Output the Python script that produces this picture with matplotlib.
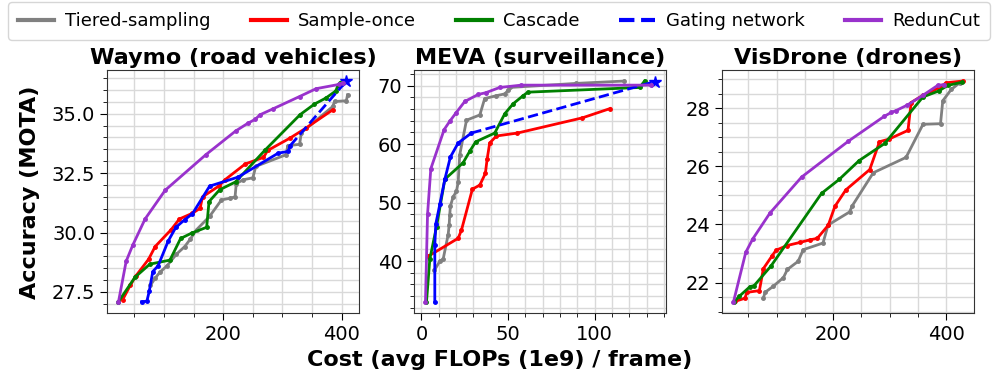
import matplotlib
matplotlib.use("Agg")
import matplotlib.pyplot as plt
from matplotlib.ticker import MultipleLocator, FormatStrFormatter
from matplotlib.lines import Line2D

plt.rcParams['font.family'] = ['DejaVu Sans']

# ---------------- Waymo ----------------
waymo_tiered_x = [77, 85, 93, 105, 121, 135, 144, 155, 177, 197, 211, 220, 222, 234, 250, 255, 306, 309, 329, 332, 385, 388, 408, 410]
waymo_tiered_y = [27.78, 28.08, 28.33, 28.6, 29.09, 29.41, 29.71, 30.12, 30.68, 31.37, 31.44, 31.5, 32.06, 32.22, 32.3, 32.78, 33.27, 33.65, 33.71, 34.2, 35.3, 35.51, 35.54, 35.79]
waymo_once_x = [30, 43, 52, 74, 85, 112, 126, 148, 161, 165, 193, 203, 237, 268, 275, 312, 339, 385]
waymo_once_y = [27.17, 27.78, 28.16, 28.88, 29.41, 30.12, 30.57, 30.81, 31.02, 31.5, 31.96, 32.22, 32.88, 33.16, 33.45, 33.96, 34.38, 35.16]
waymo_casc_x = [23, 51, 76, 110, 128, 147, 172, 176, 194, 221, 270, 330, 354, 373, 390, 394, 398]
waymo_casc_y = [27.09, 28.12, 28.67, 28.84, 29.75, 29.98, 30.22, 31.3, 31.8, 32.13, 33.45, 34.96, 35.4, 35.65, 35.95, 36.2, 36.3]
waymo_gate_x = [62, 71, 75, 81, 90, 107, 120, 135, 148, 177, 225, 293, 310, 313]
waymo_gate_y = [27.09, 27.11, 27.53, 28.36, 28.6, 29.64, 30.22, 30.54, 30.79, 31.95, 32.33, 33.34, 33.41, 33.65]
waymo_gate_star = (408, 36.37)
waymo_red_x = [23, 36, 47, 68, 102, 171, 221, 242, 254, 262, 284, 329, 357, 396, 403]
waymo_red_y = [27.08, 28.79, 29.46, 30.57, 31.78, 33.28, 34.27, 34.6, 34.76, 34.95, 35.2, 35.72, 36.05, 36.23, 36.3]

# ---------------- MEVA ----------------
meva_tiered_x = [7.5, 10.6, 12.5, 15.4, 16, 16.3, 16.7, 18.3, 20.2, 21.2, 22.1, 26, 33.7, 36.5, 43.3, 48.1, 50, 51, 89.4, 117]
meva_tiered_y = [38.4, 40.0, 40.3, 44.5, 46.2, 47.8, 49.4, 51.0, 51.9, 53.5, 58.2, 64.1, 65.0, 67.8, 68.3, 68.6, 69.2, 69.7, 70.4, 70.8]
meva_once_x = [3.8, 21.2, 23.1, 29.4, 33.7, 36.9, 37.9, 39.4, 43.3, 55.4, 92.9, 109]
meva_once_y = [40.8, 43.9, 45.3, 52.3, 53.0, 55.0, 57.4, 60.2, 61.4, 61.9, 64.5, 66.1]
meva_casc_x = [2.9, 4.8, 8.7, 13.5, 24, 27.9, 31.3, 42.3, 48.1, 52.9, 58.7, 61.5, 126, 128.8]
meva_casc_y = [33.0, 40.3, 45.9, 54.0, 56.8, 58.8, 60.4, 61.9, 65.2, 66.9, 68.3, 68.9, 69.7, 70.8]
meva_gate_x = [7.7, 7.7, 8.3, 10.6, 13.5, 16.7, 21.2, 28.8]
meva_gate_y = [33.0, 42.8, 46.4, 49.7, 54.0, 57.8, 60.2, 61.9]
meva_gate_star = (134.6, 70.7)
meva_red_x = [2.3, 3.5, 5.4, 13.1, 16.3, 19.8, 25, 32.7, 37.1, 45.2, 57.7, 132.7]
meva_red_y = [33.0, 48.0, 55.8, 62.5, 63.9, 65.3, 67.3, 68.5, 68.8, 69.7, 70.1, 70.1]

# ---------------- VisDrone ----------------
vis_tiered_x = [76.5, 79.4, 94, 112, 119, 138, 147, 182, 191, 229, 234, 271, 329, 359, 390, 394, 409, 424]
vis_tiered_y = [21.46, 21.66, 21.87, 22.17, 22.45, 22.73, 23.13, 23.36, 23.98, 24.43, 24.65, 25.78, 26.31, 27.45, 27.47, 28.26, 28.65, 28.88]
vis_once_x = [26.5, 44, 47, 69.4, 76.5, 91.2, 98.8, 117.6, 141.2, 158.8, 171.8, 191.2, 203, 222.4, 264.7, 282, 298.8, 332.4, 338, 358.8, 388, 400, 429]
vis_once_y = [21.35, 21.46, 21.66, 21.72, 22.48, 22.9, 23.11, 23.27, 23.38, 23.47, 23.52, 23.97, 24.62, 25.19, 25.89, 26.85, 26.94, 27.24, 28.2, 28.45, 28.71, 28.88, 28.94]
vis_casc_x = [24.7, 33.5, 52.9, 60, 90, 179.4, 210.6, 245.9, 291.2, 358.8, 387, 402.9, 428.2]
vis_casc_y = [21.33, 21.52, 21.86, 21.89, 22.57, 25.07, 25.55, 26.2, 26.79, 28.39, 28.6, 28.79, 28.9]
vis_red_x = [23.5, 45.3, 57.6, 88, 144, 227, 290, 303, 311, 331, 359, 385, 397]
vis_red_y = [21.33, 23.04, 23.5, 24.39, 25.63, 26.87, 27.72, 27.86, 27.92, 28.11, 28.45, 28.79, 28.82]

titles = ["Waymo (road vehicles)", "MEVA (surveillance)", "VisDrone (drones)"]
labels = ["Tiered-sampling", "Sample-once", "Cascade", "Gating network", "RedunCut"]
colors = ["#808080", "red", "green", "blue", "darkorchid"]

W, H = 997, 386
fig = plt.figure(figsize=(W / 100, H / 100), dpi=100)
bottom_px, top_px = 313, 70
lefts = [107, 414, 722]
width_px = 252
axes = [fig.add_axes([l / W, (H - bottom_px) / H, width_px / W, (bottom_px - top_px) / H]) for l in lefts]

lw = 2.0
ms = 2.5

def draw_all(ax, tx, ty, ox, oy, cx, cy, rx, ry, gx=None, gy=None, star=None):
    ax.plot(tx, ty, color=colors[0], lw=lw, marker='o', ms=ms)
    ax.plot(ox, oy, color=colors[1], lw=lw, marker='o', ms=ms)
    ax.plot(cx, cy, color=colors[2], lw=lw, marker='o', ms=ms)
    if gx is not None:
        ax.plot(gx, gy, color=colors[3], lw=lw, marker='o', ms=ms)
        ax.plot([gx[-1], star[0]], [gy[-1], star[1]], color=colors[3], lw=lw, ls='--')
        ax.plot([star[0]], [star[1]], color=colors[3], marker='*', ms=9, ls='none')
    ax.plot(rx, ry, color=colors[4], lw=lw, marker='o', ms=ms)

draw_all(axes[0], waymo_tiered_x, waymo_tiered_y, waymo_once_x, waymo_once_y,
         waymo_casc_x, waymo_casc_y, waymo_red_x, waymo_red_y,
         waymo_gate_x, waymo_gate_y, waymo_gate_star)
draw_all(axes[1], meva_tiered_x, meva_tiered_y, meva_once_x, meva_once_y,
         meva_casc_x, meva_casc_y, meva_red_x, meva_red_y,
         meva_gate_x, meva_gate_y, meva_gate_star)
draw_all(axes[2], vis_tiered_x, vis_tiered_y, vis_once_x, vis_once_y,
         vis_casc_x, vis_casc_y, vis_red_x, vis_red_y)

x_major = [200, 50, 200]
x_minor = [50, 10, 50]
y_major = [2.5, 10, 2]
y_minor = [0.5, 2, 0.5]
for i, ax in enumerate(axes):
    ax.set_title(titles[i], fontsize=16, fontweight='bold', pad=4)
    ax.xaxis.set_major_locator(MultipleLocator(x_major[i]))
    ax.xaxis.set_minor_locator(MultipleLocator(x_minor[i]))
    ax.yaxis.set_major_locator(MultipleLocator(y_major[i]))
    ax.yaxis.set_minor_locator(MultipleLocator(y_minor[i]))
    ax.grid(which='both', color='#d9d9d9', lw=1.0)
    ax.set_axisbelow(True)
    ax.tick_params(axis='both', which='major', labelsize=14, length=5)
    ax.tick_params(axis='both', which='minor', length=3)
    for s in ax.spines.values():
        s.set_color('#333333')

axes[0].yaxis.set_major_formatter(FormatStrFormatter('%.1f'))

fig.text(30 / W, (H - 192) / H, "Accuracy (MOTA)", rotation=90, fontsize=16, fontweight='bold',
         ha='center', va='center')
fig.text(500 / W, (H - 360) / H, "Cost (avg FLOPs (1e9) / frame)", fontsize=16,
         fontweight='bold', ha='center', va='center')

handles = [Line2D([], [], color=colors[0], lw=3),
           Line2D([], [], color=colors[1], lw=3),
           Line2D([], [], color=colors[2], lw=3),
           Line2D([], [], color=colors[3], lw=3, ls='--'),
           Line2D([], [], color=colors[4], lw=3)]
fig.legend(handles, labels, loc='upper left', ncol=5, fontsize=13,
           bbox_to_anchor=(8 / W, 1 - 2 / H, 982 / W, 0), mode='expand',
           frameon=True, borderaxespad=0, borderpad=0.55, handlelength=2.0,
           handletextpad=0.6)

fig.savefig("out.png", dpi=100)
